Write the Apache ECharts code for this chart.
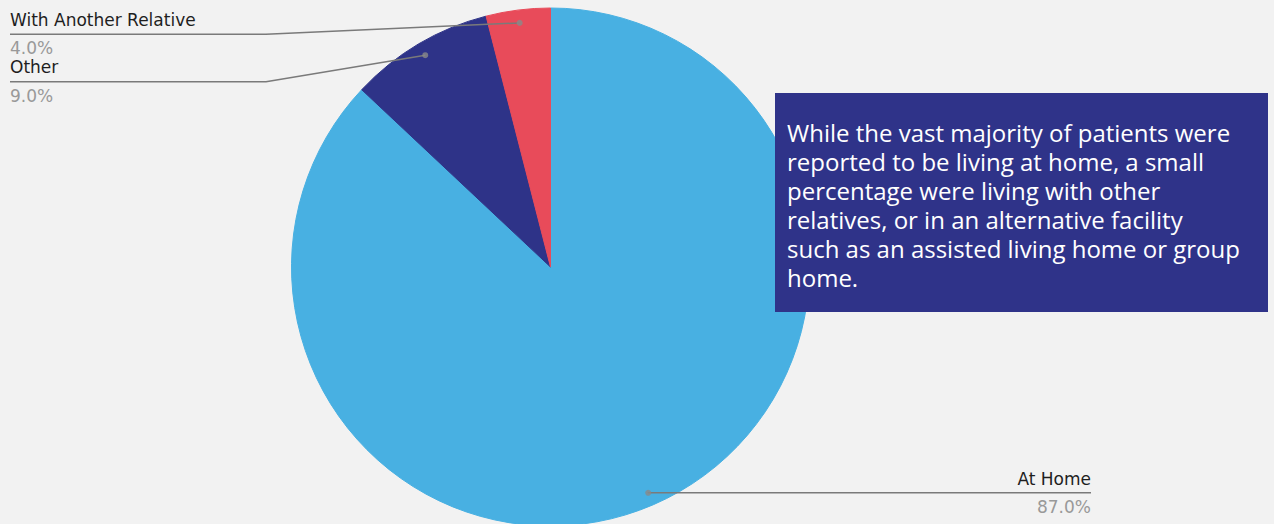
<!DOCTYPE html>
<html>
<head>
<meta charset="utf-8">
<script src="https://cdn.jsdelivr.net/npm/echarts@6/dist/echarts.min.js"></script>
<style>
    html, body { margin: 0; padding: 0; background: #f2f2f2; overflow: hidden; }
    #livingChart { width: 1274px; height: 524px; }
</style>
</head>
<body>
<div id="livingChart"></div>
<script>
const categories = ['At Home', 'Other', 'With Another Relative'];
const shares = [87, 9, 4];
const sliceColors = ['#48b0e2', '#2e3388', '#e84b5a'];
const noteLines = [
    'While the vast majority of patients were',
    'reported to be living at home, a small',
    'percentage were living with other',
    'relatives, or in an alternative facility',
    'such as an assisted living home or group',
    'home.'
];

// pie geometry in px; label dots sit a little inside the rim
const cx = 550.5;
const cy = 267;
const R = 259;
const dotRatio = 0.95;
const boxTop = 10.4;

const total = shares.reduce((a, b) => a + b, 0);
const midShares = shares.map((v, i) => shares.slice(0, i).reduce((a, b) => a + b, 0) + v / 2);

const dotAt = (i) => {
    const th = midShares[i] / total * 2 * Math.PI;
    return [cx + dotRatio * R * Math.sin(th), cy - dotRatio * R * Math.cos(th)];
};

const pieData = (hidden) => categories.map((name, i) => ({
    name: name,
    value: shares[i],
    itemStyle: hidden
        ? { color: 'rgba(0,0,0,0)', borderWidth: 0 }
        : { color: sliceColors[i], borderColor: sliceColors[i], borderWidth: 1 }
}));

const pieBase = {
    type: 'pie',
    left: 0,
    top: boxTop,
    width: 1101,
    height: 510,
    radius: R,
    center: [cx, cy - boxTop],
    startAngle: 90,
    clockwise: true,
    emphasis: { disabled: true }
};

const chart = echarts.init(document.getElementById('livingChart'), null, { renderer: 'svg' });

chart.setOption({
    backgroundColor: '#f2f2f2',
    animation: false,
    title: {
        text: noteLines.join('\n'),
        left: 775,
        top: 93,
        backgroundColor: '#2f3389',
        padding: [25, 14, 20, 12],
        textStyle: {
            color: '#ffffff',
            fontFamily: 'Open Sans',
            fontWeight: 'normal',
            fontSize: 24,
            lineHeight: 29,
            width: 467
        }
    },
    polar: {
        center: [cx, cy],
        radius: R
    },
    angleAxis: {
        type: 'value',
        min: 0,
        max: total,
        startAngle: 90,
        clockwise: true,
        show: false
    },
    radiusAxis: {
        min: 0,
        max: 1,
        show: false
    },
    series: [
        Object.assign({}, pieBase, {
            z: 2,
            data: pieData(false),
            label: { show: false },
            labelLine: { show: false }
        }),
        // transparent copy on top, only for labels and their lines
        Object.assign({}, pieBase, {
            z: 4,
            silent: true,
            data: pieData(true),
            label: {
                position: 'outside',
                alignTo: 'edge',
                edgeDistance: 10,
                fontFamily: 'DejaVu Sans',
                formatter: (p) => '{name|' + p.name + '}\n{pct|' + p.value.toFixed(1) + '%}',
                rich: {
                    name: { fontFamily: 'DejaVu Sans', fontSize: 17, color: '#1e1e1e', lineHeight: 28.5 },
                    pct: { fontFamily: 'DejaVu Sans', fontSize: 17, color: '#999999', lineHeight: 28.5 }
                }
            },
            labelLine: {
                show: true,
                showAbove: true,
                length: -13,
                length2: 0,
                lineStyle: { color: '#7a7a7a', width: 1.5 }
            },
            labelLayout: (params) => {
                const rect = params.labelRect;
                const dot = dotAt(params.dataIndex);
                const y = rect.y + rect.height / 2;
                if (rect.x < cx) {
                    return { labelLinePoints: [dot, [rect.x + 256, y], [rect.x, y]] };
                }
                return { labelLinePoints: [dot, [dot[0], y], [rect.x + rect.width, y]] };
            }
        }),
        {
            type: 'scatter',
            coordinateSystem: 'polar',
            symbolSize: 6,
            z: 5,
            itemStyle: { color: '#8a8a8a' },
            data: midShares.map((m) => [dotRatio, m]),
            silent: true
        }
    ]
});
</script>
</body>
</html>
